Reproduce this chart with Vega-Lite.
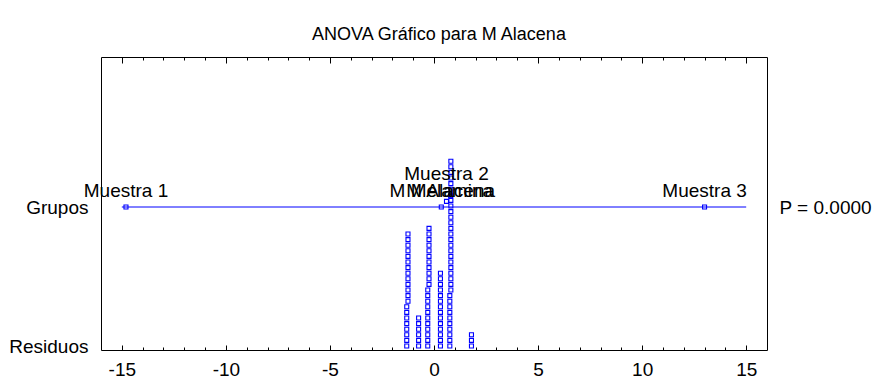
{
  "$schema": "https://vega.github.io/schema/vega-lite/v6.json",
  "width": 666,
  "height": 293,
  "autosize": {"type": "none"},
  "padding": {"left": 101, "top": 57, "right": 108, "bottom": 32},
  "title": {"text": "ANOVA Gráfico para M Alacena", "font": "Liberation Sans", "fontSize": 18, "fontWeight": "normal", "color": "#000000", "offset": 13, "anchor": "middle", "dx": 5},
  "config": {
    "view": {"stroke": "#000000", "strokeWidth": 1},
    "font": "Liberation Sans",
    "axis": {"domain": false, "grid": false, "labelFont": "Liberation Sans", "labelFontSize": 19, "labelColor": "#000000", "tickColor": "#000000", "title": null}
  },
  "datasets": {
    "residuos": [
      {"r": -1.31}, {"r": -1.31}, {"r": -1.31}, {"r": -1.31}, {"r": -1.31}, {"r": -1.31}, {"r": -1.31}, {"r": -1.31},
      {"r": -1.25}, {"r": -1.25}, {"r": -1.25}, {"r": -1.25}, {"r": -1.25}, {"r": -1.25}, {"r": -1.25}, {"r": -1.25}, {"r": -1.25}, {"r": -1.25}, {"r": -1.25}, {"r": -1.25}, {"r": -1.25},
      {"r": -0.74}, {"r": -0.74}, {"r": -0.74}, {"r": -0.74}, {"r": -0.74}, {"r": -0.74},
      {"r": -0.30}, {"r": -0.30}, {"r": -0.30}, {"r": -0.30}, {"r": -0.30}, {"r": -0.30}, {"r": -0.30}, {"r": -0.30}, {"r": -0.30}, {"r": -0.30}, {"r": -0.30},
      {"r": -0.24}, {"r": -0.24}, {"r": -0.24}, {"r": -0.24}, {"r": -0.24}, {"r": -0.24}, {"r": -0.24}, {"r": -0.24}, {"r": -0.24}, {"r": -0.24}, {"r": -0.24},
      {"r": 0.31}, {"r": 0.31}, {"r": 0.31}, {"r": 0.31}, {"r": 0.31}, {"r": 0.31}, {"r": 0.31}, {"r": 0.31}, {"r": 0.31}, {"r": 0.31}, {"r": 0.31}, {"r": 0.31}, {"r": 0.31}, {"r": 0.31},
      {"r": 0.76}, {"r": 0.76}, {"r": 0.76}, {"r": 0.76}, {"r": 0.76}, {"r": 0.76}, {"r": 0.76}, {"r": 0.76}, {"r": 0.76}, {"r": 0.76},
      {"r": 0.81}, {"r": 0.81}, {"r": 0.81}, {"r": 0.81}, {"r": 0.81}, {"r": 0.81}, {"r": 0.81}, {"r": 0.81}, {"r": 0.81}, {"r": 0.81}, {"r": 0.81}, {"r": 0.81},
      {"r": 0.81}, {"r": 0.81}, {"r": 0.81}, {"r": 0.81}, {"r": 0.81}, {"r": 0.81}, {"r": 0.81}, {"r": 0.81}, {"r": 0.81}, {"r": 0.81}, {"r": 0.81}, {"r": 0.81},
      {"r": 1.8}, {"r": 1.8}, {"r": 1.8}
    ],
    "grupos": [
      {"g": "Muestra 1", "m": -14.8},
      {"g": "M Melamina", "m": 0.35},
      {"g": "Muestra 2", "m": 0.6},
      {"g": "M Alacena", "m": 0.8},
      {"g": "Muestra 3", "m": 13.0}
    ]
  },
  "resolve": {"axis": {"x": "independent", "y": "independent"}},
  "layer": [
    {
      "data": {"values": [{}]},
      "mark": {"type": "rule", "color": "#0000ff", "strokeWidth": 1},
      "encoding": {
        "x": {"datum": -15, "type": "quantitative",
              "scale": {"domain": [-16, 16], "nice": false, "zero": false},
              "axis": {"orient": "bottom", "values": [-15,-14,-13,-12,-11,-10,-9,-8,-7,-6,-5,-4,-3,-2,-1,0,1,2,3,4,5,6,7,8,9,10,11,12,13,14,15],
                       "labelExpr": "datum.value % 5 === 0 ? '' + datum.value : ''",
                       "tickSize": {"condition": {"test": "datum.value % 5 === 0", "value": -5}, "value": -3},
                       "labelPadding": 15, "labelFlush": false, "labelOverlap": false}},
        "x2": {"datum": 15},
        "y": {"datum": "Grupos", "type": "nominal",
              "scale": {"type": "point", "domain": ["Grupos", "Residuos"], "range": [150, 289], "padding": 0},
              "axis": {"orient": "left", "ticks": false, "labelPadding": 13}}
      }
    },
    {
      "data": {"name": "residuos"},
      "transform": [
        {"bin": {"step": 0.5, "anchor": -1.5}, "field": "r", "as": "col"},
        {"window": [{"op": "row_number", "as": "nivel"}], "groupby": ["col"], "sort": [{"field": "r", "order": "ascending"}]}
      ],
      "mark": {"type": "point", "shape": "square", "size": 16, "filled": false, "stroke": "#0000ff", "strokeWidth": 1.1, "opacity": 1},
      "encoding": {
        "x": {"field": "r", "type": "quantitative",
              "scale": {"domain": [-16, 16], "nice": false, "zero": false},
              "axis": {"orient": "top", "values": [-15,-14,-13,-12,-11,-10,-9,-8,-7,-6,-5,-4,-3,-2,-1,0,1,2,3,4,5,6,7,8,9,10,11,12,13,14,15],
                       "labels": false,
                       "tickSize": {"condition": {"test": "datum.value % 5 === 0", "value": -6}, "value": -3}}},
        "y": {"datum": "Residuos", "type": "nominal",
              "scale": {"type": "point", "domain": ["Grupos", "Residuos"], "range": [150, 289], "padding": 0},
              "axis": {"orient": "right", "ticks": false, "labelPadding": 12,
                       "labelExpr": "datum.label == 'Grupos' ? 'P = 0.0000' : ''"}},
        "yOffset": {"field": "nivel", "type": "quantitative", "scale": {"domain": [1, 41], "range": [0, -224]}}
      }
    },
    {
      "data": {"name": "grupos"},
      "transform": [
        {"bin": {"step": 2, "anchor": -1}, "field": "m", "as": "col"},
        {"window": [{"op": "row_number", "as": "nivel"}], "groupby": ["col"], "sort": [{"field": "m", "order": "ascending"}]}
      ],
      "mark": {"type": "point", "shape": "square", "size": 16, "filled": false, "stroke": "#0000ff", "strokeWidth": 1.1, "opacity": 1},
      "encoding": {
        "x": {"field": "m", "type": "quantitative", "scale": {"domain": [-16, 16], "nice": false, "zero": false}, "axis": null},
        "y": {"datum": "Grupos", "type": "nominal", "scale": {"type": "point", "domain": ["Grupos", "Residuos"], "range": [150, 289], "padding": 0}, "axis": null},
        "yOffset": {"field": "nivel", "type": "quantitative", "scale": {"domain": [1, 41], "range": [0, -224]}}
      }
    },
    {
      "data": {"name": "grupos"},
      "transform": [{"filter": "datum.g != 'Muestra 2'"}],
      "mark": {"type": "text", "font": "Liberation Sans", "fontSize": 19, "color": "#000000", "align": "center", "baseline": "alphabetic", "dy": -10},
      "encoding": {
        "x": {"field": "m", "type": "quantitative", "scale": {"domain": [-16, 16], "nice": false, "zero": false}, "axis": null},
        "y": {"datum": "Grupos", "type": "nominal", "scale": {"type": "point", "domain": ["Grupos", "Residuos"], "range": [150, 289], "padding": 0}, "axis": null},
        "text": {"field": "g"}
      }
    },
    {
      "data": {"name": "grupos"},
      "transform": [{"filter": "datum.g == 'Muestra 2'"}],
      "mark": {"type": "text", "font": "Liberation Sans", "fontSize": 19, "color": "#000000", "align": "center", "baseline": "alphabetic", "dy": -27},
      "encoding": {
        "x": {"field": "m", "type": "quantitative", "scale": {"domain": [-16, 16], "nice": false, "zero": false}, "axis": null},
        "y": {"datum": "Grupos", "type": "nominal", "scale": {"type": "point", "domain": ["Grupos", "Residuos"], "range": [150, 289], "padding": 0}, "axis": null},
        "text": {"field": "g"}
      }
    }
  ]
}
